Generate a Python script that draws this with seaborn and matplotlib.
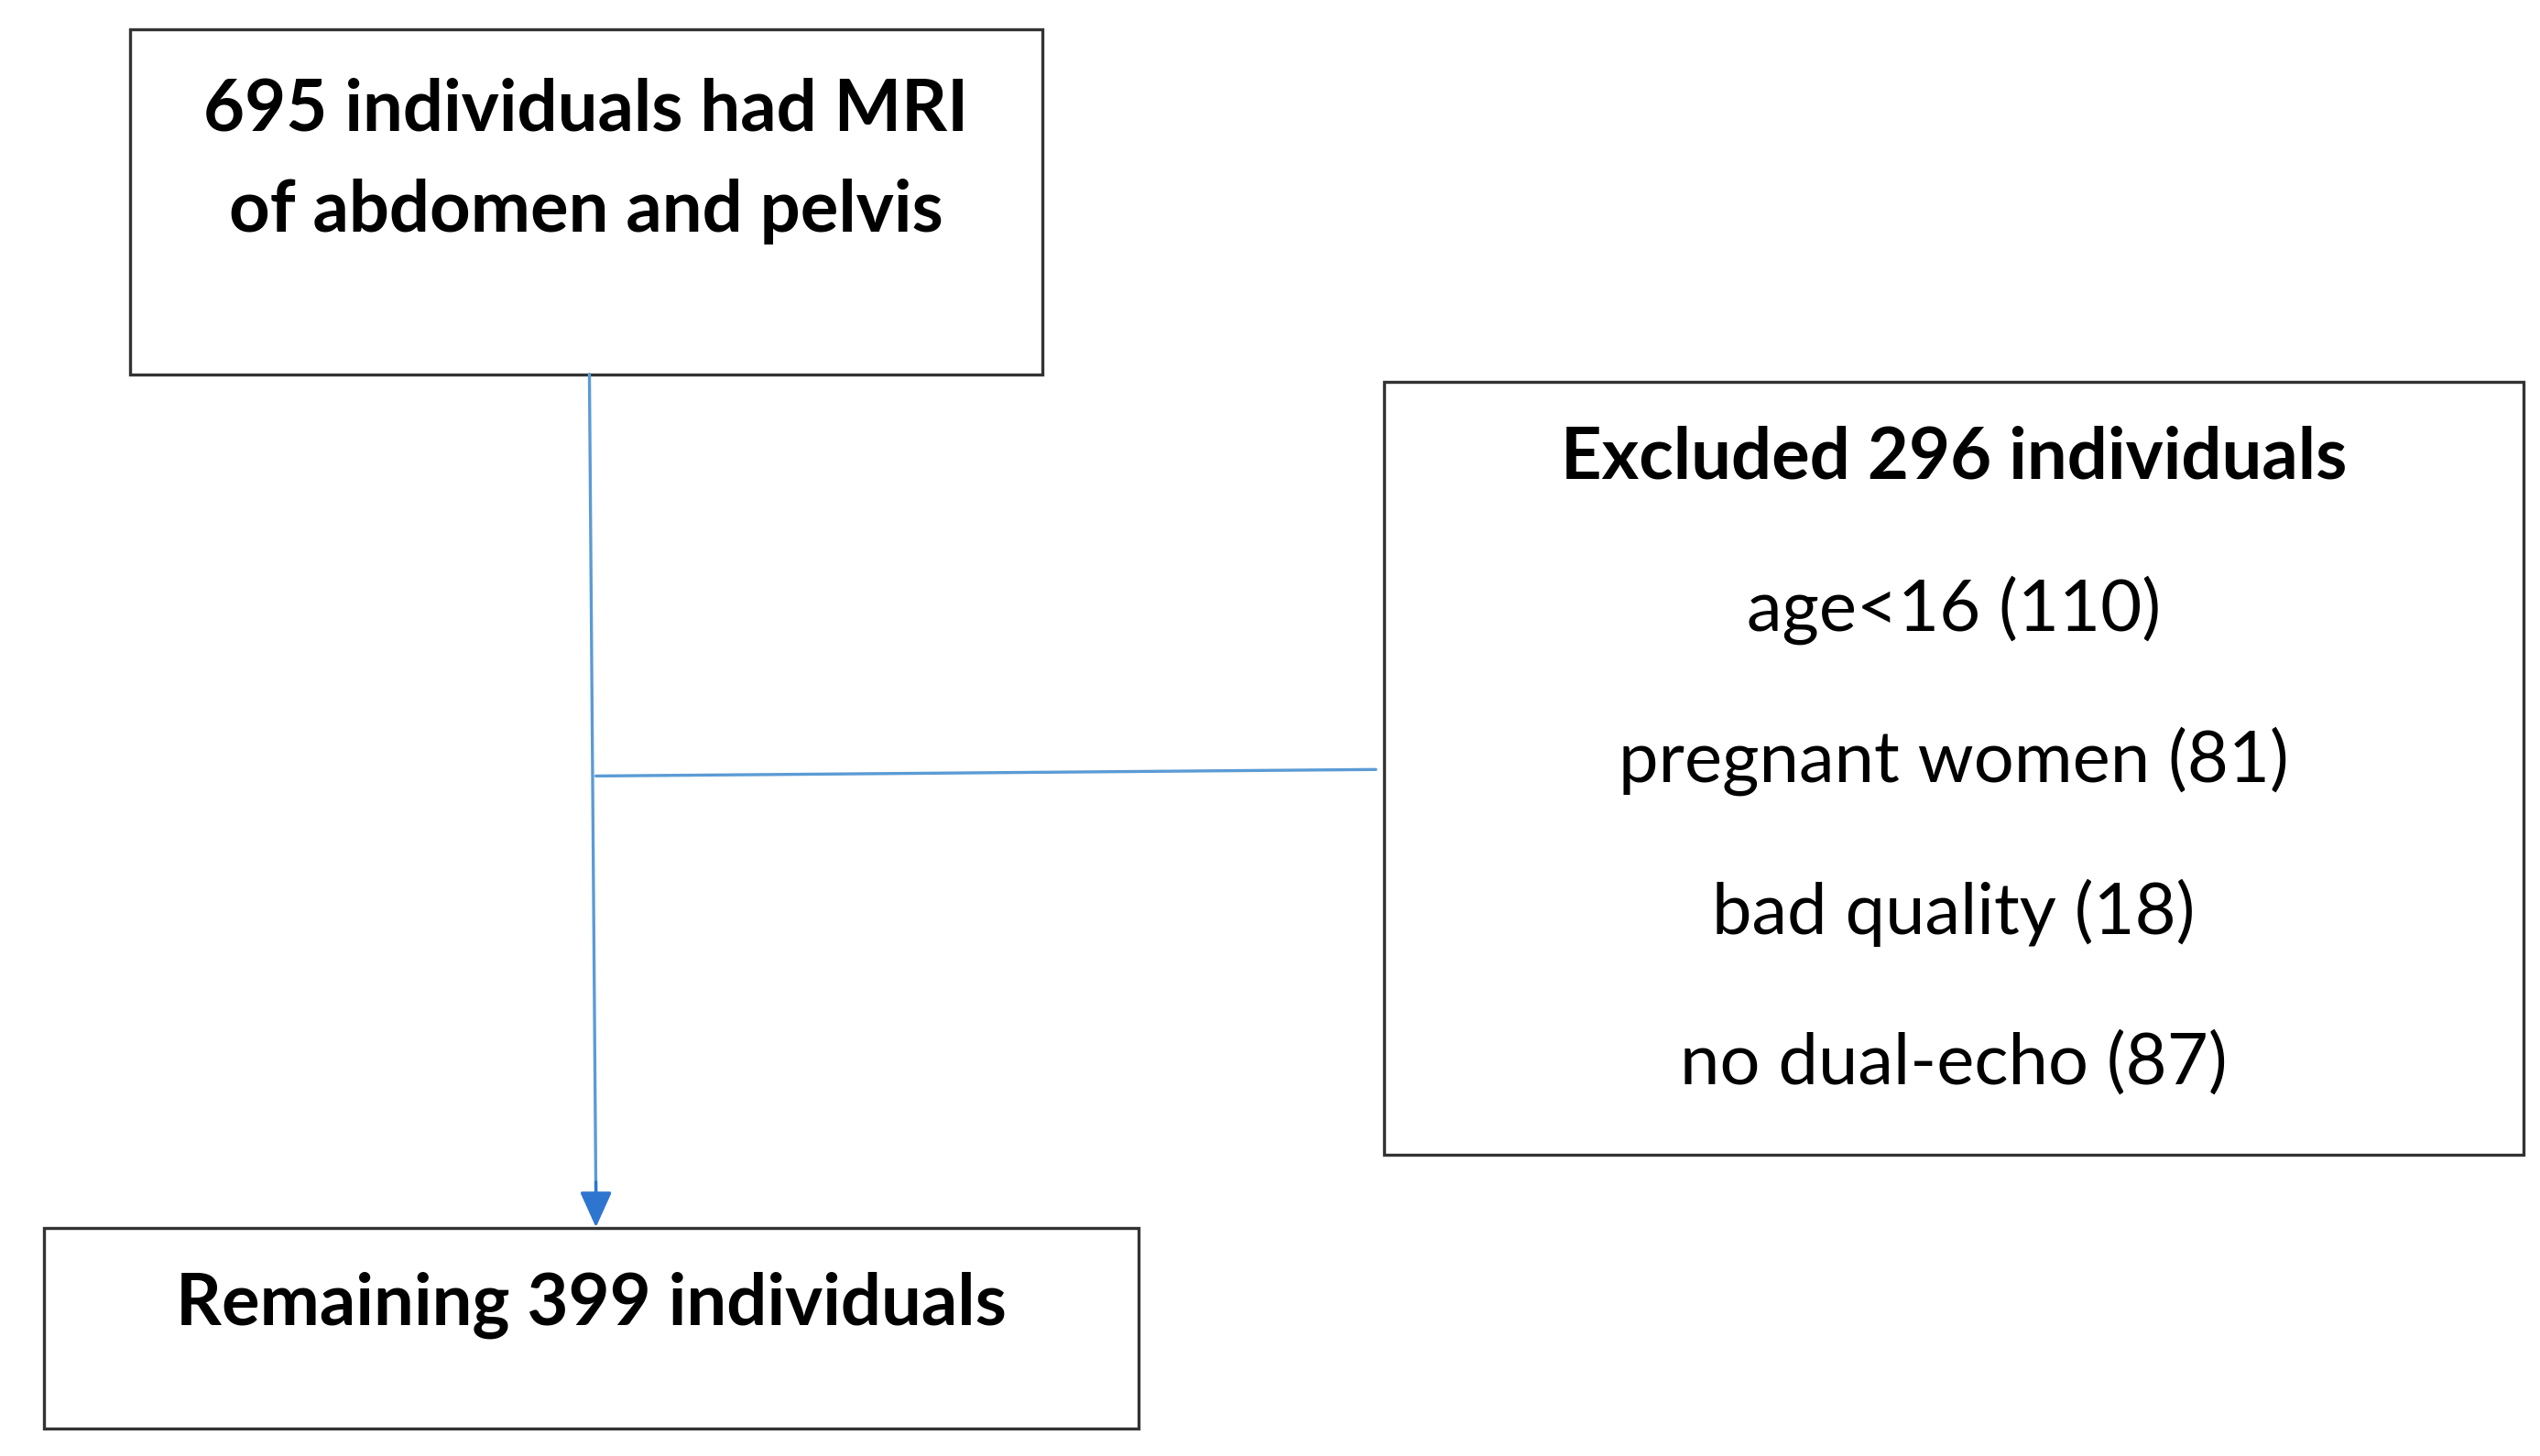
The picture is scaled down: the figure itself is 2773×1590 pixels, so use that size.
import matplotlib.pyplot as plt
import seaborn as sns
from matplotlib.patches import Rectangle

sns.set_theme(style="white")
plt.rcParams['font.family'] = ['Lato', 'DejaVu Sans']

top_lines = ['695 individuals had MRI', 'of abdomen and pelvis']
excl_title = 'Excluded 296 individuals'
excl_reasons = ['age<16 (110)', 'pregnant women (81)', 'bad quality (18)', 'no dual-echo (87)']
bottom_text = 'Remaining 399 individuals'

W, H = 1560, 895
fig = plt.figure(figsize=(27.73, 15.90), dpi=100)
ax = fig.add_axes([0, 0, 1, 1])
ax.set_xlim(0, W)
ax.set_ylim(H, 0)
ax.axis('off')

box_kw = dict(fill=False, edgecolor='#333333', linewidth=2.4)
ax.add_patch(Rectangle((80, 18), 560, 212, **box_kw))
ax.add_patch(Rectangle((850, 235), 700, 475, **box_kw))
ax.add_patch(Rectangle((27, 755), 672, 123, **box_kw))

fs = 56
for i, t in enumerate(top_lines):
    ax.text(360, 68 + i * 62, t, ha='center', va='center', fontsize=fs, fontweight='bold', color='black')
ax.text(1200, 282, excl_title, ha='center', va='center', fontsize=fs, fontweight='bold', color='black')
for i, t in enumerate(excl_reasons):
    ax.text(1200, 375 + i * 93, t, ha='center', va='center', fontsize=fs, color='black')
ax.text(363, 802, bottom_text, ha='center', va='center', fontsize=fs, fontweight='bold', color='black')

line_c = '#5b9bd5'
ax.plot([362, 366], [230, 735], color=line_c, lw=2.4)
ax.plot([366, 845], [477, 473], color=line_c, lw=2.4)
ax.annotate('', xy=(366, 756), xytext=(366, 725),
            arrowprops=dict(arrowstyle='-|>,head_length=2.0,head_width=0.9', color='#2e75d0', lw=2.4))

fig.savefig('out.png', dpi=100, facecolor='white')
